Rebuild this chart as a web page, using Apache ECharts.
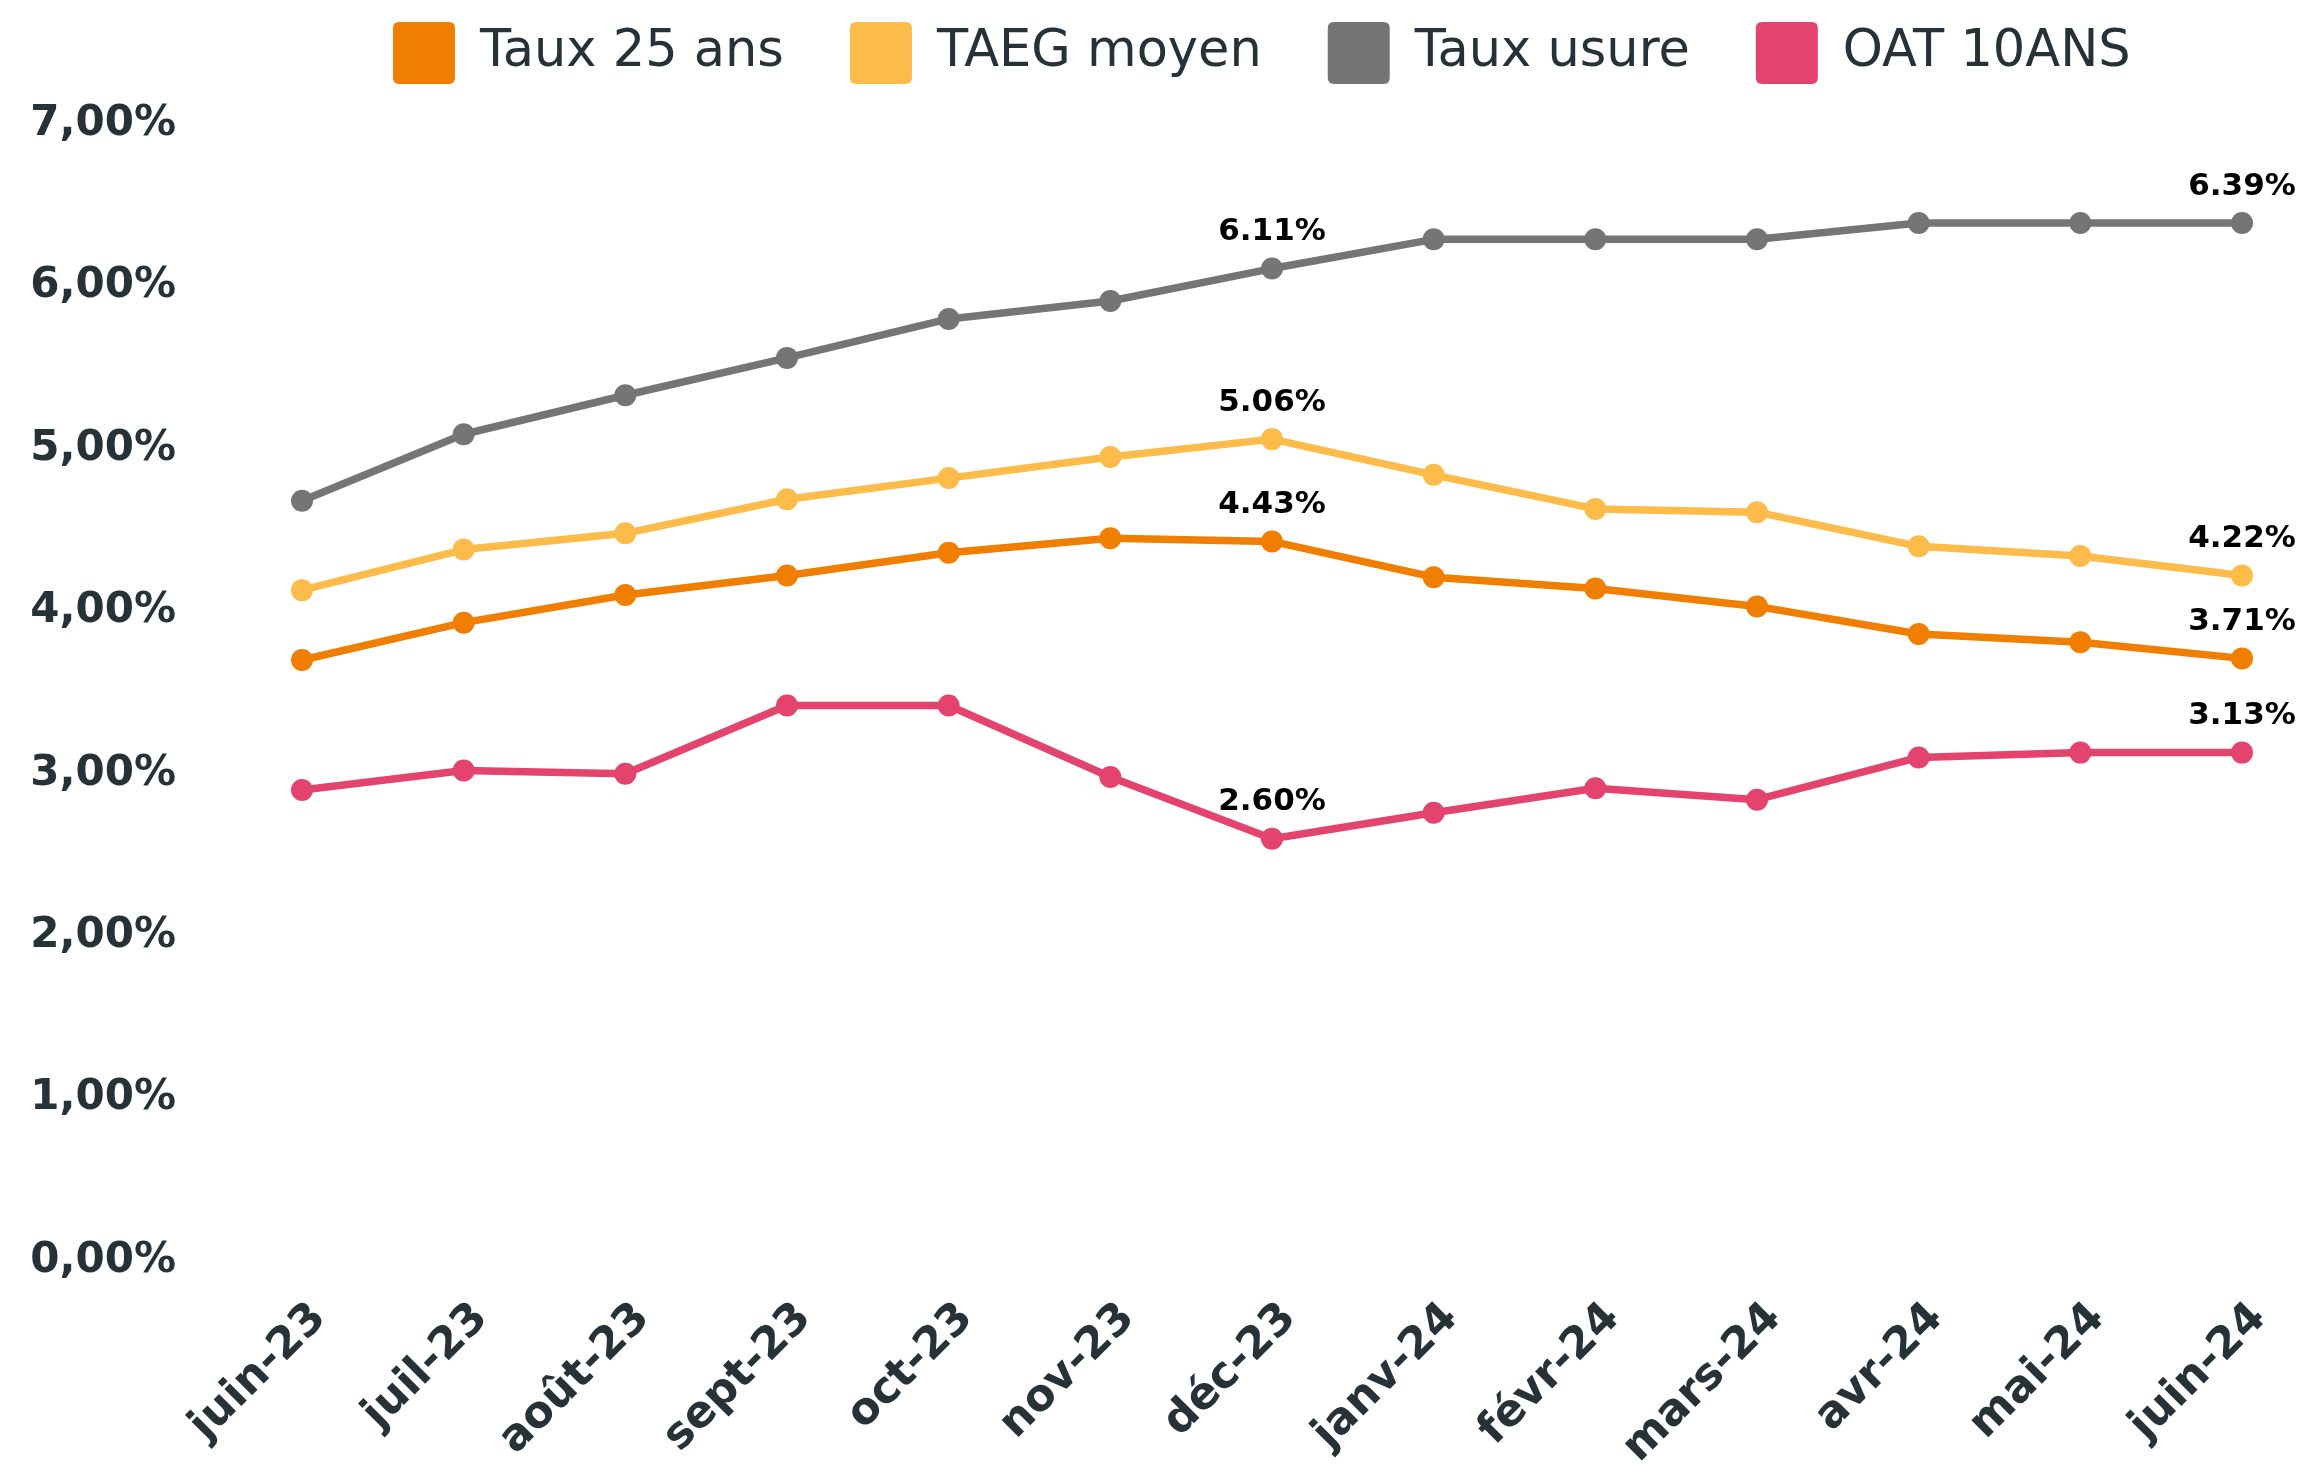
<!DOCTYPE html>
<html>
<head>
<meta charset="utf-8">
<script src="https://cdn.jsdelivr.net/npm/echarts@6/dist/echarts.min.js"></script>
<style>
html,body{margin:0;padding:0;background:#fff;}
#chart{width:2306px;height:1474px;}
</style>
</head>
<body>
<div id="chart"></div>
<script>
const categories = ['juin-23','juil-23','août-23','sept-23','oct-23','nov-23','déc-23','janv-24','févr-24','mars-24','avr-24','mai-24','juin-24'];
const taux25 = [3.70,3.93,4.10,4.22,4.36,4.45,4.43,4.21,4.14,4.03,3.86,3.81,3.71];
const taegMoyen = [4.13,4.38,4.48,4.69,4.82,4.95,5.06,4.84,4.63,4.61,4.40,4.34,4.22];
const tauxUsure = [4.68,5.09,5.33,5.56,5.80,5.91,6.11,6.29,6.29,6.29,6.39,6.39,6.39];
const oat10 = [2.90,3.02,3.00,3.42,3.42,2.98,2.60,2.76,2.91,2.84,3.10,3.13,3.13];
const seriesNames = ['Taux 25 ans','TAEG moyen','Taux usure','OAT 10ANS'];
const labeledIdx = [6,12];
const yMin = 0, yMax = 7, yInterval = 1;

const colors = ['#F07E00','#FDBB4A','#757575','#E3436D'];
const FONT = 'DejaVu Sans';
const AXIS_TXT = '#263238';

function mkData(arr){
  return arr.map((v,i)=> labeledIdx.includes(i)
    ? {value:v, label:{show:true}}
    : {value:v});
}
const allVals = [taux25, taegMoyen, tauxUsure, oat10];

const chart = echarts.init(document.getElementById('chart'), null, {renderer:'canvas'});
chart.setOption({
  animation:false,
  backgroundColor:'#fff',
  color:colors,
  legend:{
    data:seriesNames,
    top:17,
    left:388,
    itemWidth:62,
    itemHeight:62,
    itemGap:66,
    icon:'path://M1,0H9Q10,0,10,1V9Q10,10,9,10H1Q0,10,0,9V1Q0,0,1,0Z',
    textStyle:{fontFamily:FONT,fontSize:51,color:AXIS_TXT,padding:[0,0,0,20]}
  },
  grid:{left:302,right:64,top:124,bottom:213,containLabel:false},
  xAxis:{
    type:'category',
    data:categories,
    boundaryGap:false,
    axisLine:{show:false},
    axisTick:{show:false},
    splitLine:{show:false},
    axisLabel:{rotate:45,margin:68,padding:[0,-25,0,0],fontFamily:FONT,fontWeight:'bold',fontSize:44,color:AXIS_TXT,interval:0}
  },
  yAxis:{
    type:'value',
    min:yMin,max:yMax,interval:yInterval,
    axisLine:{show:false},
    axisTick:{show:false},
    splitLine:{show:false},
    axisLabel:{margin:126,padding:[22,0,0,0],fontFamily:FONT,fontWeight:'bold',fontSize:42,color:AXIS_TXT,
      formatter:v=>v.toFixed(2).replace('.',',')+'%'}
  },
  series:seriesNames.map((n,k)=>({
    name:n,
    type:'line',
    data:mkData(allVals[k]),
    symbol:'circle',
    symbolSize:22,
    lineStyle:{width:7.5,color:colors[k]},
    itemStyle:{color:colors[k]},
    label:{show:false,position:'top',distance:10,fontFamily:FONT,fontWeight:'bold',fontSize:31,color:'#000',
      formatter:p=>p.value.toFixed(2)+'%'}
  }))
});
</script>
</body>
</html>
